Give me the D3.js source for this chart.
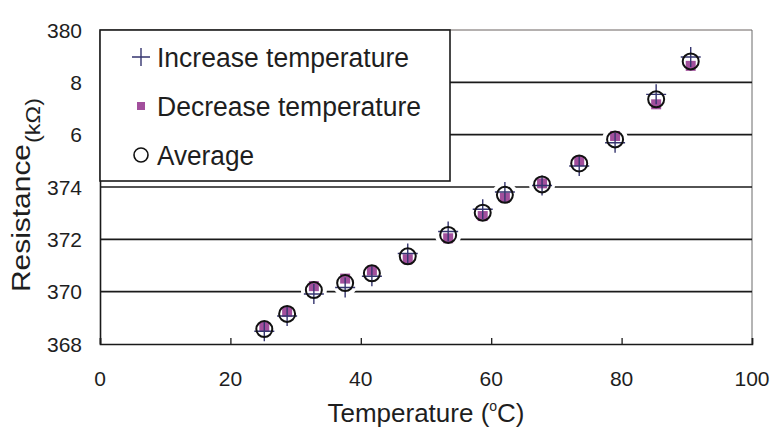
<!DOCTYPE html>
<html><head><meta charset="utf-8">
<script src="https://cdn.jsdelivr.net/npm/d3@7/dist/d3.min.js"></script>
<style>body{margin:0;background:#fff}svg{display:block}text{font-family:"Liberation Sans",Arial,sans-serif;fill:#1e1e1e}</style>
</head><body><svg id="c" width="772" height="428"></svg>
<script>
const temperature = [25.2, 28.7, 32.8, 37.6, 41.7, 47.2, 53.4, 58.7, 62.1, 67.8, 73.5, 79.0, 85.3, 90.6];
const increaseR = [368.49, 369.07, 369.91, 370.16, 370.59, 371.46, 372.30, 373.15, 373.81, 374.06, 374.80, 375.69, 377.54, 378.97];
const decreaseR = [368.65, 369.23, 370.21, 370.50, 370.81, 371.24, 372.04, 372.89, 373.59, 374.14, 374.99, 375.95, 377.16, 378.63];
const averageR  = [368.57, 369.15, 370.06, 370.33, 370.70, 371.35, 372.17, 373.02, 373.70, 374.10, 374.90, 375.82, 377.35, 378.80];
const xTicks = [0, 20, 40, 60, 80, 100];
const yTicks = [368, 370, 372, 374, 376, 378, 380];
const yTickLabels = ["368", "370", "372", "374", "6", "8", "380"];
const legendLabels = ["Increase temperature", "Decrease temperature", "Average"];

const svg = d3.select("#c");
const x = d3.scaleLinear().domain([0, 100]).range([100, 752]);
const y = d3.scaleLinear().domain([368, 380]).range([344, 30]);

// frame top/right
svg.append("line").attr("x1", x(0)).attr("x2", x(100)).attr("y1", y(380)).attr("y2", y(380)).attr("stroke", "#6b6260").attr("stroke-width", 1);
svg.append("line").attr("x1", x(100)).attr("x2", x(100)).attr("y1", y(380)).attr("y2", y(368)).attr("stroke", "#6b6b6b").attr("stroke-width", 1);

// gridlines
svg.append("g").selectAll("line").data(yTicks.filter(v => v > 368 && v < 380)).join("line")
  .attr("x1", x(0)).attr("x2", x(100)).attr("y1", d => y(d)).attr("y2", d => y(d))
  .attr("stroke", "#1a1a1a").attr("stroke-width", 1.6);

// bottom axis
const xAxis = d3.axisBottom(x).tickValues(xTicks).tickSize(-6).tickFormat("");
const gx = svg.append("g").attr("transform", `translate(0,${y(368)})`).call(xAxis);
gx.select(".domain").attr("stroke", "#1a1a1a").attr("stroke-width", 1.6);
gx.selectAll(".tick line").attr("stroke", "#1a1a1a").attr("stroke-width", 1.3);
svg.append("g").selectAll("text").data(xTicks).join("text")
  .attr("x", d => x(d)).attr("y", 386).attr("text-anchor", "middle")
  .attr("font-size", 21).attr("fill", "#333").text(d => d);

// left axis
const yAxis = d3.axisLeft(y).tickValues(yTicks).tickSize(0).tickFormat("");
const gy = svg.append("g").attr("transform", `translate(${x(0)},0)`).call(yAxis);
gy.select(".domain").attr("stroke", "#1a1a1a").attr("stroke-width", 1.6);
svg.append("g").selectAll("text").data(yTicks).join("text")
  .attr("x", 82).attr("y", d => y(d) + 7.5).attr("text-anchor", "end")
  .attr("font-size", 21).attr("fill", "#333").text((d, i) => yTickLabels[i]);

// axis titles
const xt = svg.append("text").attr("x", 426).attr("y", 422).attr("text-anchor", "middle").attr("font-size", 26);
xt.append("tspan").text("Temperature (");
xt.append("tspan").attr("font-size", 14).attr("dy", -11).text("o");
xt.append("tspan").attr("dy", 11).text("C)");

svg.append("text").attr("transform", "translate(30,292) rotate(-90)").attr("font-size", 26)
  .attr("textLength", 148).attr("lengthAdjust", "spacingAndGlyphs").text("Resistance");
svg.append("text").attr("transform", "translate(40,143) rotate(-90)").attr("font-size", 21)
  .attr("font-family", "'Liberation Serif', 'Times New Roman', serif")
  .attr("textLength", 45).attr("lengthAdjust", "spacingAndGlyphs").text("(kΩ)");

// markers
const crossColor = "#35356f", squareColor = "#a24f9c";
const pts = temperature.map((t, i) => ({t, inc: increaseR[i], dec: decreaseR[i], avg: averageR[i]}));
const g = svg.append("g");
g.selectAll(".halo").data(pts).join("circle").attr("class", "halo")
  .attr("cx", d => x(d.t)).attr("cy", d => y(d.avg)).attr("r", 13).attr("fill", "#fff");
g.selectAll(".sq").data(pts).join("rect").attr("class", "sq")
  .attr("x", d => x(d.t) - 5).attr("y", d => y(d.dec) - 5).attr("width", 10).attr("height", 10).attr("fill", squareColor);
g.selectAll(".cr").data(pts).join("path").attr("class", "cr")
  .attr("d", d => `M${x(d.t) - 10},${y(d.inc)}h20M${x(d.t)},${y(d.inc) - 10}v20`)
  .attr("stroke", crossColor).attr("stroke-width", 1.4).attr("fill", "none");
g.selectAll(".av").data(pts).join("circle").attr("class", "av")
  .attr("cx", d => x(d.t)).attr("cy", d => y(d.avg)).attr("r", 8)
  .attr("fill", "none").attr("stroke", "#111").attr("stroke-width", 2);

// legend
const lg = svg.append("g");
lg.append("rect").attr("x", x(0)).attr("y", y(380)).attr("width", 350).attr("height", 151)
  .attr("fill", "#fff").attr("stroke", "#1a1a1a").attr("stroke-width", 1.6);
const rowsY = [57, 106, 155];
const lens = [252, 264, 97];
lg.selectAll(".lt").data(legendLabels).join("text").attr("class", "lt")
  .attr("x", 157).attr("y", (d, i) => rowsY[i] + 9.5).attr("font-size", 27)
  .attr("textLength", (d, i) => lens[i]).attr("lengthAdjust", "spacingAndGlyphs").text(d => d);
lg.append("path").attr("d", `M${132},${rowsY[0]}h18M${141},${rowsY[0] - 9}v18`).attr("stroke", crossColor).attr("stroke-width", 1.4);
lg.append("rect").attr("x", 137).attr("y", rowsY[1] - 4).attr("width", 8).attr("height", 8).attr("fill", squareColor);
lg.append("circle").attr("cx", 141).attr("cy", rowsY[2]).attr("r", 7).attr("fill", "none").attr("stroke", "#111").attr("stroke-width", 1.6);
</script></body></html>
